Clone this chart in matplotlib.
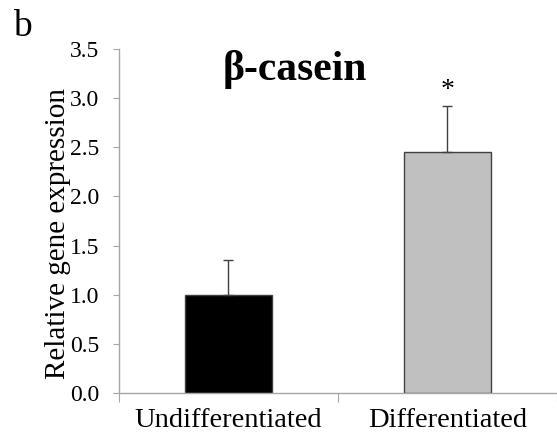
import numpy as np
import matplotlib.pyplot as plt

plt.rcParams['font.family'] = ['Liberation Serif', 'DejaVu Serif']

# data
groups = ["Undifferentiated", "Differentiated"]
values = [1.0, 2.45]
errors = [0.35, 0.47]
colors = ["#000000", "#c0c0c0"]
sig = ["", "*"]
yticks = [0.0, 0.5, 1.0, 1.5, 2.0, 2.5, 3.0, 3.5]

fig = plt.figure(figsize=(5.57, 4.37), dpi=100)
ax = fig.add_axes([0.2136, 0.1007, 0.7864, 0.7872])

pos = np.arange(len(groups)) + 0.5
ax.bar(pos, values, width=0.4, color=colors, edgecolor="#404040", linewidth=1, zorder=2)
ax.errorbar(pos, values, yerr=[np.zeros(len(errors)), errors], fmt="none",
            ecolor="#404040", elinewidth=1, capsize=3.6, capthick=1, zorder=3)

for p, v, e, s in zip(pos, values, errors, sig):
    if s:
        ax.text(p, v + e + 0.09, s, ha="center", va="baseline", fontsize=20)

ax.set_xlim(0, 2)
ax.set_ylim(0, 3.5)
ax.set_yticks(yticks)
ax.set_yticklabels(["%.1f" % t for t in yticks])

# category boundaries as major ticks, labels on minor ticks
ax.set_xticks([0, 1, 2])
ax.set_xticklabels([])
ax.set_xticks(pos, minor=True)
ax.set_xticklabels(groups, minor=True)
ax.tick_params(axis="x", which="major", length=6.5, color="#a6a6a6", direction="out")
ax.tick_params(axis="x", which="minor", length=0, pad=11, labelsize=20.5)
ax.tick_params(axis="y", length=4.3, color="#a6a6a6", direction="out", labelsize=17, pad=10)

for sp in ["top", "right"]:
    ax.spines[sp].set_visible(False)
for sp in ["left", "bottom"]:
    ax.spines[sp].set_color("#a6a6a6")
    ax.spines[sp].set_linewidth(1)

fig.text(0.104, 0.4657, "Relative gene expression", rotation=90,
         ha="center", va="center", fontsize=21)
ax.text(0.801, 3.18, "β-casein", ha="center", va="baseline", fontsize=30, fontweight="bold")
fig.text(13 / 557, 1 - 36 / 437, "b", ha="left", va="baseline", fontsize=27)

fig.savefig("out.png", dpi=100)
